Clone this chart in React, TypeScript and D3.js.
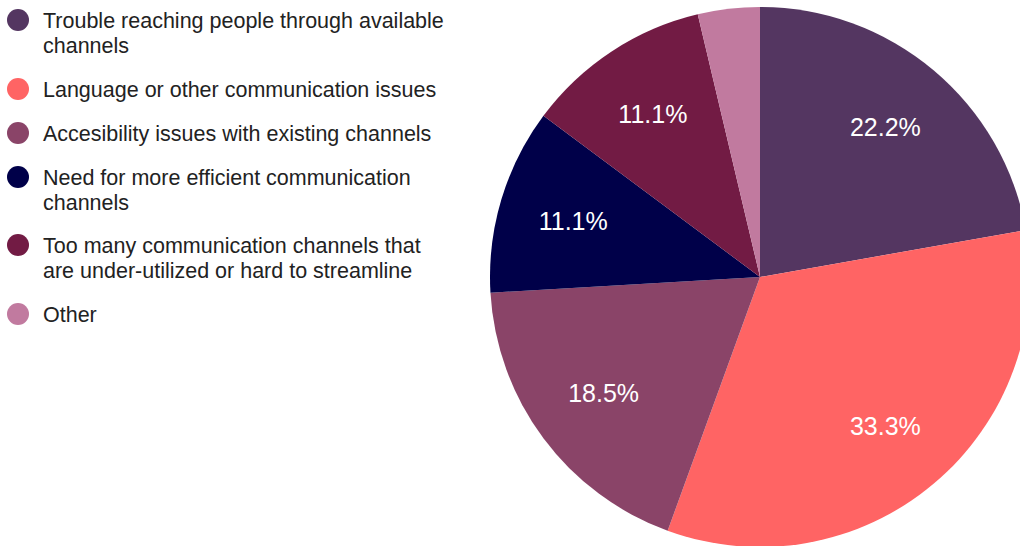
import React from "react";
import * as d3 from "d3";

// survey answers (share of 27 responses)
const categories = [
  "Trouble reaching people through available channels",
  "Language or other communication issues",
  "Accesibility issues with existing channels",
  "Need for more efficient communication channels",
  "Too many communication channels that are under-utilized or hard to streamline",
  "Other",
];
const values = [6, 9, 5, 3, 3, 1];
const legendLines = [
  ["Trouble reaching people through available", "channels"],
  ["Language or other communication issues"],
  ["Accesibility issues with existing channels"],
  ["Need for more efficient communication", "channels"],
  ["Too many communication channels that", "are under-utilized or hard to streamline"],
  ["Other"],
];
const colors = ["#543661", "#FF6464", "#8A4468", "#000049", "#721B44", "#C17A9F"];

const width = 1020;
const height = 546;
const cx = 760;
const cy = 277;
const radius = 270;

const App: React.FC = () => {
  const total = d3.sum(values);
  const pie = d3.pie<number>().sort(null).value((d) => d);
  const arcs = pie(values);
  const arc = d3.arc<d3.PieArcDatum<number>>().innerRadius(0).outerRadius(radius);
  const labelArc = d3.arc<d3.PieArcDatum<number>>().innerRadius(195).outerRadius(195);
  const fmt = d3.format(".1%");

  // legend rows: y of first line in each entry
  const rowY = [20, 89, 133, 177, 245, 314];
  const lineH = 25;

  return (
    <svg width={width} height={height} style={{ position: "absolute", left: 0, top: 0, background: "#fff" }}
      fontFamily="'Liberation Sans', Arial, sans-serif">
      <g transform={`translate(${cx},${cy})`}>
        {arcs.map((a, i) => (
          <path key={categories[i]} d={arc(a)!} fill={colors[i]} />
        ))}
        {arcs.map((a, i) => {
          if (a.data / total < 0.05) return null;
          const [x, y] = labelArc.centroid(a);
          return (
            <text key={"l" + i} x={x} y={y} dy="0.35em" textAnchor="middle" fill="#fff" fontSize={25}>
              {fmt(a.data / total)}
            </text>
          );
        })}
      </g>
      <g>
        {legendLines.map((lines, i) => (
          <g key={categories[i]}>
            <circle cx={18} cy={rowY[i]} r={11} fill={colors[i]} />
            {lines.map((t, j) => (
              <text key={j} x={43} y={rowY[i] + j * lineH} dy="0.35em" fontSize={21.5} fill="#222">
                {t}
              </text>
            ))}
          </g>
        ))}
      </g>
    </svg>
  );
};

export default App;
